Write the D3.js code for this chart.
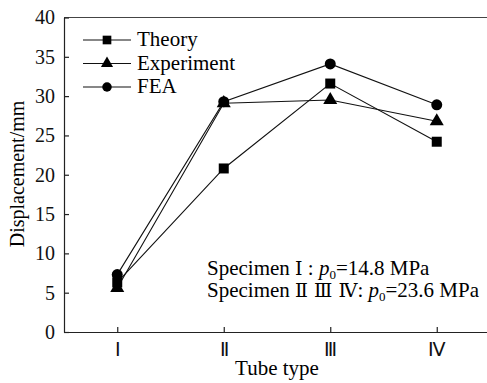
<!DOCTYPE html>
<html>
<head>
<meta charset="utf-8">
<style>
body { margin: 0; background: #fff; }
svg { display: block; font-family: "Liberation Serif", "Times New Roman", serif; }
.axis path, .axis line { stroke: #222; stroke-width: 1.2; fill: none; }
.axis text { fill: #111; font-size: 20px; font-family: "Liberation Serif", serif; }
.roman { font-family: "DejaVu Serif", serif; }
</style>
</head>
<body>
<script src="https://cdn.jsdelivr.net/npm/d3@7"></script>
<script>
var types = ["Ⅰ", "Ⅱ", "Ⅲ", "Ⅳ"];
var theory = [6.3, 20.8, 31.6, 24.2];
var experiment = [5.6, 29.1, 29.5, 26.8];
var fea = [7.3, 29.3, 34.1, 28.9];
var yTicks = [0, 5, 10, 15, 20, 25, 30, 35, 40];

var series = [
  {name: "Theory", values: theory, symbol: d3.symbolSquare, size: 100},
  {name: "Experiment", values: experiment, symbol: d3.symbolTriangle, size: 85},
  {name: "FEA", values: fea, symbol: d3.symbolCircle, size: 95}
];

var W = 487, H = 383;
var plotLeft = 64, plotTop = 17.5, plotBottom = 332, plotRight = 490;

var svg = d3.select("body").append("svg")
    .attr("width", W)
    .attr("height", H);

var x = d3.scaleLinear().domain([0.5, 4.5]).range([plotLeft, plotRight]);
var y = d3.scaleLinear().domain([0, 40]).range([plotBottom, plotTop]);

// frame top line
svg.append("line")
    .attr("x1", plotLeft).attr("x2", plotRight)
    .attr("y1", plotTop).attr("y2", plotTop)
    .attr("stroke", "#444").attr("stroke-width", 1.2);

svg.append("g")
    .attr("class", "axis")
    .attr("transform", "translate(0," + plotBottom + ")")
    .call(d3.axisBottom(x).tickValues([1, 2, 3, 4]).tickSizeInner(-5).tickSizeOuter(0)
      .tickPadding(11).tickFormat(function(d) { return types[d - 1]; }))
  .selectAll("text")
    .attr("class", "roman")
    .style("font-size", "19px");

svg.append("g")
    .attr("class", "axis")
    .attr("transform", "translate(" + plotLeft + ",0)")
    .call(d3.axisLeft(y).tickValues(yTicks).tickSizeInner(-5).tickSizeOuter(0).tickPadding(9));

svg.append("text")
    .attr("x", 277).attr("y", 375)
    .attr("text-anchor", "middle")
    .style("font-size", "21px")
    .text("Tube type");

svg.append("text")
    .attr("transform", "translate(24,174) rotate(-90)")
    .attr("text-anchor", "middle")
    .style("font-size", "20px")
    .text("Displacement/mm");

var line = d3.line()
    .x(function(d, i) { return x(i + 1); })
    .y(function(d) { return y(d); });

series.forEach(function(s) {
  svg.append("path")
      .attr("d", line(s.values))
      .attr("fill", "none")
      .attr("stroke", "#111")
      .attr("stroke-width", 1.1);
});

series.forEach(function(s) {
  svg.selectAll(null)
      .data(s.values)
    .enter().append("path")
      .attr("d", d3.symbol().type(s.symbol).size(s.size))
      .attr("transform", function(d, i) { return "translate(" + x(i + 1) + "," + y(d) + ")"; })
      .attr("fill", "#000");
});

// legend
var legend = svg.selectAll(".legend")
    .data(series)
  .enter().append("g")
    .attr("class", "legend")
    .attr("transform", function(d, i) { return "translate(0," + (40 + i * 23.5) + ")"; });

legend.append("line")
    .attr("x1", 83).attr("x2", 131)
    .attr("stroke", "#111").attr("stroke-width", 1.1);

legend.append("path")
    .attr("transform", "translate(107,0)")
    .attr("d", function(d) { return d3.symbol().type(d.symbol).size(d.size * 0.75)(); })
    .attr("fill", "#000");

legend.append("text")
    .attr("x", 137).attr("y", 6)
    .style("font-size", "21px")
    .text(function(d) { return d.name; });

// annotation
var note = svg.append("g");
var t1 = note.append("text").attr("x", 207).attr("y", 275).style("font-size", "21px");
t1.append("tspan").text("Specimen ");
t1.append("tspan").attr("class", "roman").style("font-size", "19px").text("Ⅰ");
t1.append("tspan").text(" : ");
t1.append("tspan").style("font-style", "italic").text("p");
t1.append("tspan").attr("dy", 4).style("font-size", "13px").text("0");
t1.append("tspan").attr("dy", -4).text("=14.8 MPa");

var t2 = note.append("text").attr("x", 207).attr("y", 297).style("font-size", "21px");
t2.append("tspan").text("Specimen ");
t2.append("tspan").attr("class", "roman").style("font-size", "19px").text("Ⅱ Ⅲ Ⅳ");
t2.append("tspan").text(": ");
t2.append("tspan").style("font-style", "italic").text("p");
t2.append("tspan").attr("dy", 4).style("font-size", "13px").text("0");
t2.append("tspan").attr("dy", -4).text("=23.6 MPa");
</script>
</body>
</html>
